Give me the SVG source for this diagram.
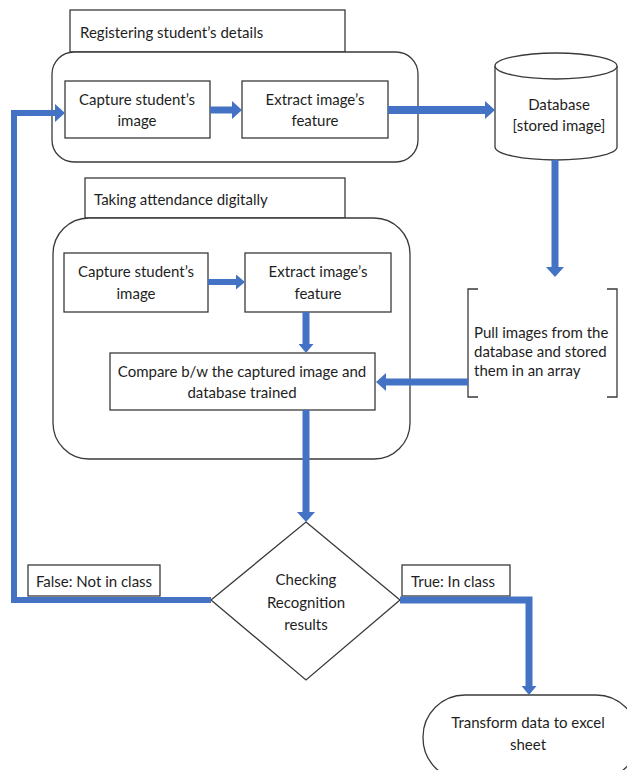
<svg xmlns="http://www.w3.org/2000/svg" width="627" height="770" viewBox="0 0 627 770">
<defs>
<style>
.box{fill:#fff;stroke:#3a3a3a;stroke-width:1.3}
.t{font-family:Lato,"Liberation Sans",sans-serif;font-size:15px;fill:#1e1e1e;text-anchor:middle}
.tl{font-family:Lato,"Liberation Sans",sans-serif;font-size:15px;fill:#1e1e1e}
.c{fill:none;stroke:#4472C4;stroke-linejoin:miter}
</style>
<marker id="ah" viewBox="0 0 10 18" refX="0" refY="9" markerWidth="10" markerHeight="18" markerUnits="userSpaceOnUse" orient="auto">
<path d="M0,0 L10,9 L0,18 Z" fill="#4472C4"/>
</marker>
<marker id="ahs" viewBox="0 0 9 15" refX="0" refY="7.5" markerWidth="9" markerHeight="15" markerUnits="userSpaceOnUse" orient="auto">
<path d="M0,0 L9,7.5 L0,15 Z" fill="#4472C4"/>
</marker>
</defs>
<rect width="627" height="770" fill="#fff"/>

<g id="registering">
<rect class="box" x="70" y="10" width="275" height="42"/>
<text class="tl" x="80" y="38">Registering student’s details</text>
<rect class="box" x="52" y="52" width="366" height="110" rx="22"/>
</g>
<g id="capture1">
<rect class="box" x="65" y="81" width="145" height="57"/>
<text class="t" x="137" y="105">Capture student’s</text>
<text class="t" x="137" y="126">image</text>
</g>
<g id="extract1">
<rect class="box" x="242" y="81" width="146" height="57"/>
<text class="t" x="315" y="105">Extract image’s</text>
<text class="t" x="315" y="126">feature</text>
</g>
<g id="database">
<path class="box" d="M495,66 V147 A61,13 0 0 0 617,147 V66"/>
<ellipse class="box" cx="556" cy="66" rx="61" ry="13"/>
<text class="t" x="559" y="110">Database</text>
<text class="t" x="559" y="131">[stored image]</text>
</g>
<g id="pull">
<path fill="none" stroke="#3a3a3a" stroke-width="1.3" d="M478,289 H468 V397 H478 M607,289 H617 V397 H607"/>
<text class="tl" x="474" y="338">Pull images from the</text>
<text class="tl" x="474" y="357">database and stored</text>
<text class="tl" x="474" y="376">them in an array</text>
</g>
<g id="attendance">
<rect class="box" x="85" y="178" width="260" height="40"/>
<text class="tl" x="94" y="205">Taking attendance digitally</text>
<rect class="box" x="53" y="218" width="357" height="241" rx="36"/>
</g>
<g id="capture2">
<rect class="box" x="64" y="253" width="144" height="59"/>
<text class="t" x="136" y="277">Capture student’s</text>
<text class="t" x="136" y="299">image</text>
</g>
<g id="extract2">
<rect class="box" x="245" y="253" width="146" height="59"/>
<text class="t" x="318" y="277">Extract image’s</text>
<text class="t" x="318" y="299">feature</text>
</g>
<g id="compare">
<rect class="box" x="110" y="353" width="265" height="57"/>
<text class="t" x="242" y="377">Compare b/w the captured image and</text>
<text class="t" x="242" y="398">database trained</text>
</g>
<g id="decision">
<polygon class="box" points="306,522 400,600 306,680 211,600"/>
<text class="t" x="306" y="585">Checking</text>
<text class="t" x="306" y="608">Recognition</text>
<text class="t" x="306" y="630">results</text>
</g>
<g id="false-label">
<rect class="box" x="28" y="565" width="132" height="31"/>
<text class="t" x="94" y="587">False: Not in class</text>
</g>
<g id="true-label">
<rect class="box" x="402" y="565" width="108" height="31"/>
<text class="t" x="453" y="587">True: In class</text>
</g>
<g id="transform">
<rect class="box" x="423" y="695" width="215" height="85" rx="42"/>
<text class="t" x="528" y="728">Transform data to excel</text>
<text class="t" x="528" y="750">sheet</text>
</g>

<g id="connectors">
<path class="c" stroke-width="7" d="M210,110 H232" marker-end="url(#ah)"/>
<path class="c" stroke-width="8" d="M388,110 H485" marker-end="url(#ah)"/>
<path class="c" stroke-width="7" d="M555,160 V267" marker-end="url(#ah)"/>
<path class="c" stroke-width="7" d="M468,382 H386" marker-end="url(#ah)"/>
<path class="c" stroke-width="6" d="M208,282 H236" marker-end="url(#ahs)"/>
<path class="c" stroke-width="7" d="M306,312 V344" marker-end="url(#ahs)"/>
<path class="c" stroke-width="7" d="M306,410 V512" marker-end="url(#ah)"/>
<path class="c" stroke-width="6" d="M211,600 H14 V113 H55" marker-end="url(#ah)"/>
<path class="c" stroke-width="7" d="M400,600 H529 V686" marker-end="url(#ahs)"/>
</g>
</svg>
